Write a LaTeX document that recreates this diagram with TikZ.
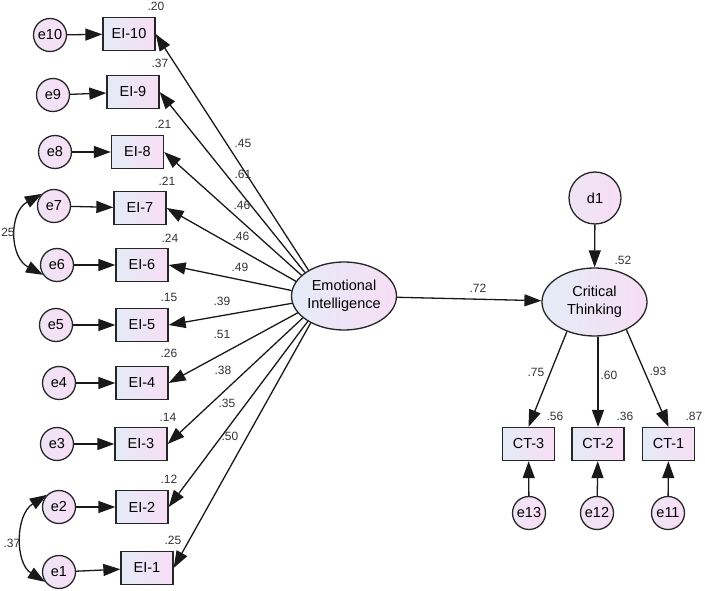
\documentclass[tikz,border=0pt]{standalone}
\usepackage{fontspec}
\setmainfont{Liberation Sans}
\usetikzlibrary{arrows.meta,shapes.geometric}
\definecolor{cl}{RGB}{228,235,246}
\definecolor{cr}{RGB}{248,222,246}
\begin{document}
\begin{tikzpicture}[x=1pt,y=-1pt,
  obs/.style={draw=black!85, line width=1.3pt, left color=cl, right color=cr,
    minimum width=52pt, minimum height=33pt, inner sep=0pt,
    font=\fontsize{14.5}{17}\selectfont},
  err/.style={circle, draw=black!85, line width=1.3pt, left color=cl!45!cr, right color=cr,
    minimum size=33pt, inner sep=0pt, font=\fontsize{14.5}{17}\selectfont},
  lat/.style={ellipse, draw=black!85, line width=1.3pt, left color=cl, right color=cr,
    minimum width=105pt, minimum height=68pt, inner sep=0pt, align=center,
    font=\fontsize{14.5}{18}\selectfont},
  lbl/.style={font=\fontsize{12}{14}\selectfont, text=black!80, inner sep=0pt},
  arr/.style={line width=1.3pt, draw=black!90, -{Triangle[length=17pt,width=12pt]}},
  cov/.style={line width=1.3pt, draw=black!90, {Triangle[length=17pt,width=12pt]}-{Triangle[length=17pt,width=12pt]}},
]
\useasboundingbox (0,0) rectangle (705,591);

% latent variables
\node[lat] (EI) at (344,296) {Emotional\\Intelligence};
\node[lat] (CT) at (594.5,302) {Critical\\Thinking};
\node[err, minimum size=52pt] (d1) at (595,198) {d1};

% EI indicators
\node[obs] (b10) at (129,34) {EI-10};
\node[obs] (b9) at (133,92) {EI-9};
\node[obs] (b8) at (137.5,152) {EI-8};
\node[obs] (b7) at (140,208) {EI-7};
\node[obs] (b6) at (142,265) {EI-6};
\node[obs] (b5) at (142,325) {EI-5};
\node[obs] (b4) at (142,383) {EI-4};
\node[obs] (b3) at (141,444) {EI-3};
\node[obs] (b2) at (142,507) {EI-2};
\node[obs] (b1) at (147,568) {EI-1};

% errors
\node[err] (e10) at (50,35) {e10};
\node[err] (e9) at (53,95) {e9};
\node[err] (e8) at (55,152) {e8};
\node[err] (e7) at (54,206) {e7};
\node[err] (e6) at (57,265) {e6};
\node[err] (e5) at (56,325) {e5};
\node[err] (e4) at (59,383) {e4};
\node[err] (e3) at (57,444) {e3};
\node[err] (e2) at (59,507) {e2};
\node[err] (e1) at (59,572) {e1};

% CT indicators
\node[obs] (c3) at (528.5,444) {CT-3};
\node[obs] (c2) at (598,444) {CT-2};
\node[obs] (c1) at (668.5,444) {CT-1};
\node[err] (e13) at (529,513) {e13};
\node[err] (e12) at (597,513) {e12};
\node[err] (e11) at (668,513) {e11};

% error arrows
\foreach \i in {1,...,10} {\draw[arr] (e\i) -- (b\i);}
\draw[arr] (e13) -- (c3);
\draw[arr] (e12) -- (c2);
\draw[arr] (e11) -- (c1);

% loadings
\draw[arr] (EI.144.8) -- (b10.east);
\draw[arr] (EI.149) -- (b9.east);
\draw[arr] (EI.154.7) -- (b8.east);
\draw[arr] (EI.163) -- (b7.east);
\draw[arr] (EI.174.4) -- (b6.east);
\draw[arr] (EI.188.6) -- (b5.east);
\draw[arr] (EI.200.3) -- (b4.east);
\draw[arr] (EI.208.9) -- (b3.east);
\draw[arr] (EI.215.2) -- (b2.east);
\draw[arr] (EI.219.9) -- (b1.east);

\draw[arr] (EI) -- (CT);
\draw[arr] (d1) -- (CT);
\draw[arr] (CT.227) -- (c3.north);
\draw[arr] (CT.south -| c2.north) -- (c2.north);
\draw[arr] (CT.-41) -- (c1.north);

% covariances
\draw[cov] (e7.135) .. controls (9,212) and (9,257) .. (e6.215);
\draw[cov] (e2.135) .. controls (15,515) and (15,563) .. (e1.215);

% R-square labels
\node[lbl] (r10) at (156,6) {.20};
\node[lbl] (r9) at (160,63) {.37};
\node[lbl] (r8) at (163,124) {.21};
\node[lbl] (r7) at (167,181) {.21};
\node[lbl] (r6) at (170,238) {.24};
\node[lbl] (r5) at (169,297) {.15};
\node[lbl] (r4) at (169,353) {.26};
\node[lbl] (r3) at (168,417) {.14};
\node[lbl] (r2) at (169,479) {.12};
\node[lbl] (r1) at (173,540) {.25};
\node[lbl] (rct) at (623,260) {.52};
\node[lbl] (rc3) at (555,416) {.56};
\node[lbl] (rc2) at (625,416) {.36};
\node[lbl] (rc1) at (694,416) {.87};

% path labels
\node[lbl] (p10) at (243,143) {.45};
\node[lbl] (p9) at (243,174) {.61};
\node[lbl] (p8) at (242,205) {.46};
\node[lbl] (p7) at (241,236) {.46};
\node[lbl] (p6) at (240,267) {.49};
\node[lbl] (p5) at (222,301) {.39};
\node[lbl] (p4) at (222,334) {.51};
\node[lbl] (p3) at (223,370) {.38};
\node[lbl] (p2) at (227,403) {.35};
\node[lbl] (p1) at (230,436) {.50};
\node[lbl] (pct) at (478,288) {.72};
\node[lbl] (pc3) at (536,372) {.75};
\node[lbl] (pc2) at (609,375) {.60};
\node[lbl] (pc1) at (658,371) {.93};

% covariance labels
\node[lbl] (k76) at (8,232) {25};
\node[lbl] (k21) at (12,543) {.37};
\end{tikzpicture}
\end{document}
